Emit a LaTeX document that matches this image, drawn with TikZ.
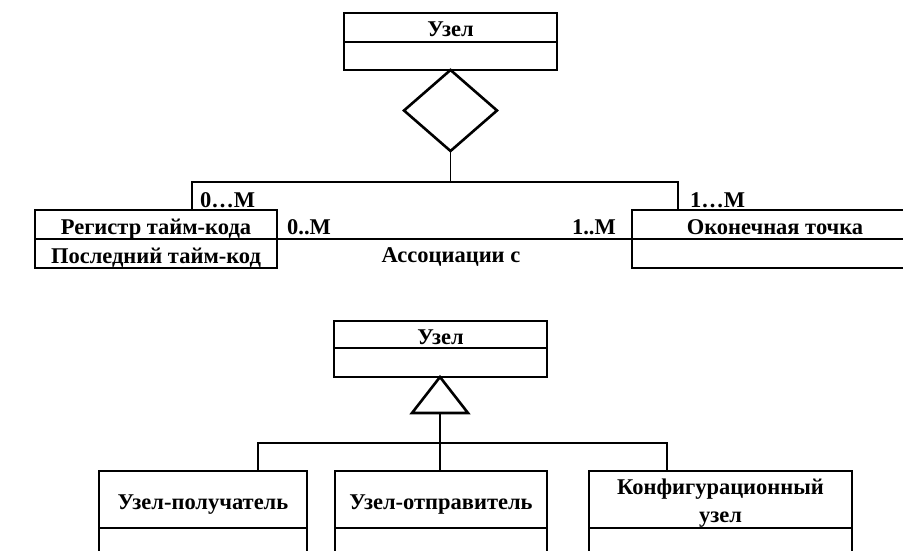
\documentclass[tikz,border=0pt]{standalone}
\usepackage{fontspec}
\setmainfont{Liberation Serif}
\usetikzlibrary{shapes.geometric,calc}
\begin{document}
\begin{tikzpicture}[x=1pt,y=-1pt,
  txt/.style={font=\fontsize{22.5}{28}\selectfont\bfseries},
  line1/.style={txt, text height=20pt, text depth=1pt},
  cname/.style={draw, line width=1.5pt, inner sep=0pt, outer sep=0pt, line1, anchor=north west},
  cattr/.style={draw, line width=1.5pt, inner sep=0pt, outer sep=0pt, anchor=north},
  conn/.style={line width=1.3pt},
  symb/.style={draw, line width=2.6pt, inner sep=0pt, outer sep=0pt},
  mult/.style={line1, inner sep=0pt}]
\useasboundingbox (0,0) rectangle (903,551);
\clip (0,0) rectangle (903,551);

% ---- aggregation: node with its parts ----
\node[cname, minimum width=213pt, minimum height=29pt] (n1) at (344,13) {Узел};
\node[cattr, minimum width=213pt, minimum height=28pt] (n1a) at (n1.south) {};
\node[symb, diamond, minimum width=93pt, minimum height=81pt, anchor=north] (agg) at (n1a.south) {};

\node[cname, minimum width=242pt, minimum height=29pt] (reg) at (35,210) {Регистр тайм-кода};
\node[cattr, minimum width=242pt, minimum height=29pt, line1] (rega) at (reg.south) {Последний тайм-код};

\node[cname, minimum width=300pt, minimum height=29pt] (ep) at (632,210) {\hspace*{-14pt}Оконечная точка};
\node[cattr, minimum width=300pt, minimum height=29pt] (epa) at (ep.south) {};

\coordinate (j1) at (agg.south |- 0,182);
\draw[conn] (agg.south) -- (j1);
\draw[conn] ($(reg.north west)+(157,0)$) |- (j1) -| ($(ep.north west)+(46,0)$);
\draw[conn] (reg.south east) -- (ep.south west);

\node[mult, anchor=west] (m1) at (200,198) {0\dots M};
\node[mult, anchor=west] (m2) at (690,198) {1\dots M};
\node[mult, anchor=west] (m3) at (287,225) {0..M};
\node[mult, anchor=east] (m4) at (616,225) {1..M};
\node[mult] (assoc) at (451,253) {Ассоциации с};

% ---- generalization: node and its kinds ----
\node[cname, minimum width=213pt, minimum height=27pt] (n2) at (334,321) {Узел};
\node[cattr, minimum width=213pt, minimum height=29pt] (n2a) at (n2.south) {};
\coordinate (tip) at ($(n2a.south)+(-0.5,0)$);
\draw[line width=2.6pt, line join=miter] (tip) -- ++(-28,36) -- ++(56,0) -- cycle;
\coordinate (tbase) at ($(tip)+(0,36)$);

\node[cname, minimum width=208pt, minimum height=57pt] (k1) at (99,471) {Узел-получатель};
\node[cattr, minimum width=208pt, minimum height=60pt] (k1a) at (k1.south) {};
\node[cname, minimum width=212pt, minimum height=57pt] (k2) at (335,471) {Узел-отправитель};
\node[cattr, minimum width=212pt, minimum height=60pt] (k2a) at (k2.south) {};
\node[cname, minimum width=263pt, minimum height=57pt] (k3) at (589,471) {};
\node[txt, align=center, inner sep=0pt] (k3t) at ($(k3.center)+(0,4)$) {Конфигурационный\\узел};
\node[cattr, minimum width=263pt, minimum height=60pt] (k3a) at (k3.south) {};

\coordinate (j2) at (tbase |- 0,443);
\draw[conn] (tbase) -- (tbase |- k2.north);
\draw[conn] ($(k1.north west)+(159,0)$) |- (j2) -| ($(k3.north west)+(78,0)$);
\end{tikzpicture}
\end{document}
